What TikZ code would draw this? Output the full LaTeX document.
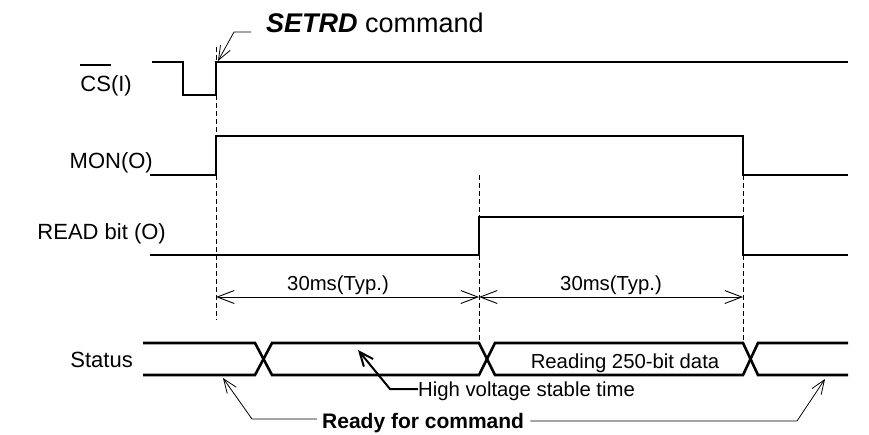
\documentclass[tikz,border=0pt]{standalone}
\usepackage{fontspec}
\setmainfont{Liberation Sans}
\usetikzlibrary{arrows.meta}
\newcommand\myovl[1]{\leavevmode\setbox0\hbox{#1}\rlap{\rule[1.12em]{\wd0}{0.09em}}\box0}
\begin{document}
\begin{tikzpicture}[x=1pt,y=-1pt,
  sig/.style={line width=2.6pt},
  dsh/.style={line width=0.8pt, dash pattern=on 5pt off 3pt},
  dim/.style={line width=0.9pt, {Straight Barb[length=17pt,width=13pt]}-{Straight Barb[length=17pt,width=13pt]}},
  thinarr/.style={line width=0.8pt, -{Straight Barb[length=14pt,width=11pt]}},
  thickarr/.style={line width=2pt, -{Straight Barb[length=14pt,width=12pt]}},
  lbl/.style={font=\fontsize{22}{26}\selectfont, inner sep=0pt},
  small/.style={font=\fontsize{20.3}{24}\selectfont, inner sep=0pt}]
\useasboundingbox (0,0) rectangle (869,434);

% labels
\node[lbl, anchor=base east] (cs) at (132,91) {\myovl{CS}(I)};
\node[lbl, anchor=base east] (mon) at (153,168) {MON(O)};
\node[lbl, anchor=base east] (read) at (166,239) {READ bit (O)};
\node[lbl, anchor=base east] (status) at (133,367) {Status};
\node[font=\fontsize{27}{31}\selectfont, inner sep=0pt, anchor=base west] (setrd) at (266,32) {\textbf{\textit{SETRD}} command};

% dashed guides
\coordinate (d1t) at (216,47); \coordinate (d1b) at (216,320);
\coordinate (d2t) at (479,175); \coordinate (d2b) at (479,343);
\coordinate (d3t) at (743,175); \coordinate (d3b) at (743,343);
\draw[dsh] (d1t) -- (d1b);
\draw[dsh] (d2t) -- (d2b);
\draw[dsh] (d3t) -- (d3b);

% CS waveform
\coordinate (c0) at (152,62); \coordinate (c1) at (183,62);
\coordinate (c2) at (183,95); \coordinate (c3) at (216,95);
\coordinate (c4) at (216,62); \coordinate (c5) at (848,62);
\draw[sig] (c0) -- (c1) -- (c2) -- (c3) -- (c4) -- (c5);

% MON waveform
\coordinate (m0) at (150,175); \coordinate (m1) at (216,175);
\coordinate (m2) at (216,136); \coordinate (m3) at (743,136);
\coordinate (m4) at (743,175); \coordinate (m5) at (848,175);
\draw[sig] (m0) -- (m1) -- (m2) -- (m3) -- (m4) -- (m5);

% READ waveform
\coordinate (r0) at (150,255); \coordinate (r1) at (479,255);
\coordinate (r2) at (479,217); \coordinate (r3) at (743,217);
\coordinate (r4) at (743,255); \coordinate (r5) at (848,255);
\draw[sig] (r0) -- (r1) -- (r2) -- (r3) -- (r4) -- (r5);

% timing arrows
\coordinate (t1) at (216,297); \coordinate (t2) at (479,297); \coordinate (t3) at (743,297);
\draw[dim] (t1) -- (t2);
\draw[dim] (t2) -- (t3);
\node[small, anchor=base] (ty1) at (338,290) {30ms(Typ.)};
\node[small, anchor=base] (ty2) at (611,290) {30ms(Typ.)};

% Status bus
\coordinate (s0t) at (143,343); \coordinate (s0b) at (143,375);
\coordinate (x1a) at (255,343); \coordinate (x1b) at (255,375);
\coordinate (x1c) at (272,343); \coordinate (x1d) at (272,375);
\coordinate (x2a) at (479,343); \coordinate (x2b) at (479,375);
\coordinate (x2c) at (495,343); \coordinate (x2d) at (495,375);
\coordinate (x3a) at (743,343); \coordinate (x3b) at (743,375);
\coordinate (x3c) at (758,343); \coordinate (x3d) at (758,375);
\coordinate (s1t) at (848,343); \coordinate (s1b) at (848,375);
\draw[sig] (s0t) -- (x1a) -- (x1d) -- (x2b) -- (x2c) -- (x3a) -- (x3d) -- (s1b);
\draw[sig] (s0b) -- (x1b) -- (x1c) -- (x2a) -- (x2d) -- (x3b) -- (x3c) -- (s1t);
\node[small, anchor=base] (rd) at (625,368) {Reading 250-bit data};

% SETRD pointer
\coordinate (sp0) at (251,32); \coordinate (sp1) at (234,32); \coordinate (sp2) at (218,61);
\draw[thinarr] (sp0) -- (sp1) -- (sp2);

% High voltage stable time
\node[small, anchor=base west] (hv) at (418,396) {High voltage stable time};
\coordinate (hv1) at (390,389); \coordinate (hv2) at (358,350);
\draw[thickarr] (hv.west |- hv1) -- (hv1) -- (hv2);

% Ready for command
\node[font=\fontsize{21}{25}\selectfont\bfseries, inner sep=0pt, anchor=base west] (ready) at (322,428) {Ready for command};
\coordinate (ra0) at (317,419); \coordinate (ra1) at (252,419); \coordinate (ra2) at (223,378);
\coordinate (rb0) at (540,421); \coordinate (rb1) at (797,421); \coordinate (rb2) at (825,379);
\draw[thinarr] (ready.west |- ra0) ++(-5,0) -- (ra1) -- (ra2);
\draw[thinarr] (ready.east |- rb0) ++(6,0) -- (rb1) -- (rb2);
\end{tikzpicture}
\end{document}
